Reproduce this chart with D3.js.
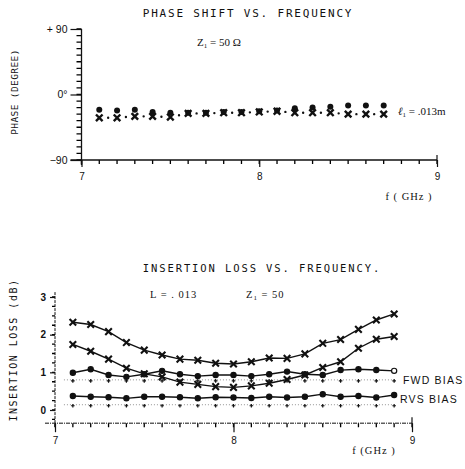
<!DOCTYPE html>
<html>
<head>
<meta charset="utf-8">
<script src="https://cdn.jsdelivr.net/npm/d3@7.9.0/dist/d3.min.js"></script>
<style>
  body { margin: 0; background: #fff; }
  svg { display: block; }
  .mono { font-family: "DejaVu Sans Mono", monospace; }
  .serif { font-family: "Liberation Serif", serif; }
  .sans { font-family: "Liberation Sans", sans-serif; }
</style>
</head>
<body>
<svg id="chart" width="465" height="469"></svg>
<script>
// phase shift chart
const phaseFreq = [7.1, 7.2, 7.3, 7.4, 7.5, 7.6, 7.7, 7.8, 7.9, 8.0, 8.1, 8.2, 8.3, 8.4, 8.5, 8.6, 8.7];
const phaseUpper = [-21, -22, -21, -24, -25, -25, -25, -24, -24, -23, -22, -19, -18, -17, -15, -15, -15];
const phaseLower = [-32, -32, -30, -30, -31, -26, -26, -25, -25, -24, -23, -25, -25, -25, -27, -27, -27];
const phaseTicks = [-90, 0, 90];
const phaseTickLabels = ['\u221290', '0\u00b0', '+ 90'];

// insertion loss chart
const lossFreq = [7.1, 7.2, 7.3, 7.4, 7.5, 7.6, 7.7, 7.8, 7.9, 8.0, 8.1, 8.2, 8.3, 8.4, 8.5, 8.6, 8.7, 8.8, 8.9];
const lossA = [2.33, 2.27, 2.08, 1.79, 1.59, 1.46, 1.35, 1.32, 1.24, 1.22, 1.28, 1.38, 1.37, 1.49, 1.77, 1.87, 2.14, 2.39, 2.55];
const lossB = [1.74, 1.56, 1.35, 1.11, 0.96, 0.88, 0.74, 0.68, 0.62, 0.60, 0.64, 0.71, 0.81, 0.93, 1.13, 1.28, 1.64, 1.88, 1.95];
const lossC = [0.99, 1.08, 0.93, 0.88, 0.95, 1.04, 0.95, 0.90, 0.93, 0.93, 0.90, 0.95, 1.02, 0.95, 0.93, 1.06, 1.08, 1.06, 1.04];
const lossD = [0.37, 0.35, 0.34, 0.31, 0.35, 0.35, 0.34, 0.31, 0.34, 0.33, 0.32, 0.35, 0.33, 0.35, 0.42, 0.35, 0.37, 0.33, 0.40];
const fwdRef = [0.80, 0.80, 0.80, 0.80, 0.80, 0.80, 0.80, 0.80, 0.80, 0.80, 0.80, 0.80, 0.80, 0.80, 0.80, 0.80, 0.80, 0.80, 0.80];
const rvsRef = [0.14, 0.14, 0.14, 0.14, 0.14, 0.14, 0.14, 0.14, 0.14, 0.14, 0.14, 0.14, 0.14, 0.14, 0.14, 0.14, 0.14, 0.14, 0.14];
const lossTicks = [0, 1, 2, 3];
const freqTicks = [7, 8, 9];

const svg = d3.select('#chart');
const ink = '#111';

// short tick marks, placed by a scale (one path per axis)
function minorTicks(g, values, pos, vertical, base, len) {
  const d = values
    .map((v) => (vertical
      ? `M${base},${pos(v)}H${base - len}`
      : `M${pos(v)},${base}V${base + len}`))
    .join('');
  g.append('path')
    .attr('d', d)
    .attr('fill', 'none')
    .attr('stroke', '#000').attr('stroke-width', 1.3);
}

// ---------- top chart ----------
const x1 = d3.scaleLinear().domain([7, 9]).range([81.5, 437]);
const y1 = d3.scaleLinear().domain([-90, 90]).range([160, 29]);

const gTop = svg.append('g');

gTop.append('text').attr('class', 'mono')
  .attr('x', 248).attr('y', 17)
  .attr('text-anchor', 'middle')
  .attr('font-size', 11).attr('letter-spacing', 1.8).attr('fill', ink)
  .text('PHASE SHIFT VS. FREQUENCY');

gTop.append('text').attr('class', 'mono')
  .attr('transform', 'translate(18,92) rotate(-90)')
  .attr('text-anchor', 'middle')
  .attr('font-size', 9.5).attr('letter-spacing', 0.4).attr('fill', ink)
  .text('PHASE (DEGREE)');

minorTicks(gTop, d3.range(-90, 91, 9), y1, true, x1(7), 5);
minorTicks(gTop, x1.ticks(20), x1, false, y1(-90), 4);

gTop.append('g')
  .attr('transform', `translate(${x1(7)},0)`)
  .call(d3.axisLeft(y1).tickValues(phaseTicks).tickSize(11).tickPadding(3)
    .tickFormat((d, i) => phaseTickLabels[i]))
  .call((g) => g.select('.domain').remove())
  .call((g) => g.selectAll('line').attr('stroke', ink).attr('stroke-width', 1.2))
  .call((g) => g.selectAll('text').attr('class', 'sans').attr('font-size', 10.5).attr('fill', ink));
gTop.append('line')
  .attr('x1', x1(7)).attr('x2', x1(7))
  .attr('y1', y1(90)).attr('y2', y1(-90) + 5)
  .attr('stroke', ink).attr('stroke-width', 1.3);

gTop.append('g')
  .attr('transform', `translate(0,${y1(-90)})`)
  .call(d3.axisBottom(x1).tickValues(freqTicks).tickSize(7).tickPadding(6).tickFormat(d3.format('d')))
  .call((g) => g.select('.domain').remove())
  .call((g) => g.selectAll('line').attr('stroke', ink).attr('stroke-width', 1.2))
  .call((g) => g.selectAll('text').attr('class', 'sans').attr('font-size', 10).attr('fill', ink));
gTop.append('line')
  .attr('x1', x1(7) - 11).attr('x2', x1(9))
  .attr('y1', y1(-90)).attr('y2', y1(-90))
  .attr('stroke', ink).attr('stroke-width', 1.3);
gTop.append('line')
  .attr('x1', x1(9)).attr('x2', x1(9))
  .attr('y1', y1(-90)).attr('y2', y1(-90) - 5)
  .attr('stroke', ink).attr('stroke-width', 1.2);

gTop.append('text').attr('class', 'serif')
  .attr('x', 409).attr('y', 200).attr('text-anchor', 'middle')
  .attr('font-size', 10.5).attr('letter-spacing', 1).attr('fill', ink)
  .text('f ( GHz )');

gTop.append('text').attr('class', 'serif')
  .attr('x', 197).attr('y', 46)
  .attr('font-size', 11).attr('fill', ink)
  .html('Z<tspan font-size="7" dy="2">1</tspan><tspan dy="-2"> = 50 \u03a9</tspan>');

gTop.append('text').attr('class', 'serif')
  .attr('x', 398).attr('y', 115)
  .attr('font-size', 11).attr('fill', ink)
  .html('<tspan font-style="italic">\u2113</tspan><tspan font-size="7" dy="2">1</tspan><tspan dy="-2"> = .013m</tspan>');

// dotted joining line, one dot between markers
const phaseLine = d3.line().x((d) => x1(d[0])).y((d) => y1(d[1]));
const step = x1(7.1) - x1(7);
gTop.append('path')
  .datum(d3.zip(phaseFreq, phaseLower))
  .attr('d', phaseLine)
  .attr('fill', 'none').attr('stroke', ink).attr('stroke-width', 2.4)
  .attr('stroke-linecap', 'round')
  .attr('stroke-dasharray', `0 ${step}`)
  .attr('stroke-dashoffset', step / 2);

gTop.append('g').selectAll('path')
  .data(d3.zip(phaseFreq, phaseLower))
  .join('path')
  .attr('transform', (d) => `translate(${x1(d[0])},${y1(d[1])})`)
  .attr('d', d3.symbol(d3.symbolTimes, 30))
  .attr('fill', 'none').attr('stroke', ink).attr('stroke-width', 2.4);

gTop.append('g').selectAll('circle')
  .data(d3.zip(phaseFreq, phaseUpper))
  .join('circle')
  .attr('cx', (d) => x1(d[0])).attr('cy', (d) => y1(d[1]))
  .attr('r', 3).attr('fill', ink);

// ---------- bottom chart ----------
const x2 = d3.scaleLinear().domain([7, 9]).range([55, 412]);
const y2 = d3.scaleLinear().domain([0, 3]).range([410, 297]);
const axisY = y2(-0.35);

const gBot = svg.append('g');

gBot.append('text').attr('class', 'mono')
  .attr('x', 262).attr('y', 272)
  .attr('text-anchor', 'middle')
  .attr('font-size', 10.5).attr('letter-spacing', 1.9).attr('fill', ink)
  .text('INSERTION LOSS VS. FREQUENCY.');

gBot.append('text').attr('class', 'mono')
  .attr('transform', 'translate(17,350) rotate(-90)')
  .attr('text-anchor', 'middle')
  .attr('font-size', 10).attr('letter-spacing', 1.5).attr('fill', ink)
  .text('INSERTION LOSS (dB)');

gBot.append('text').attr('class', 'serif')
  .attr('x', 150).attr('y', 298)
  .attr('font-size', 10.5).attr('letter-spacing', 1).attr('fill', ink)
  .text('L = . 013');

gBot.append('text').attr('class', 'serif')
  .attr('x', 246).attr('y', 298)
  .attr('font-size', 10.5).attr('letter-spacing', 1).attr('fill', ink)
  .html('Z<tspan font-size="7" dy="2">1</tspan><tspan dy="-2"> = 50</tspan>');

minorTicks(gBot, d3.range(-0.25, 3.01, 0.25), y2, true, x2(7), 3);
minorTicks(gBot, x2.ticks(20), x2, false, axisY, 4);

gBot.append('g')
  .attr('transform', `translate(${x2(7)},0)`)
  .call(d3.axisLeft(y2).tickValues(lossTicks).tickSize(5).tickPadding(4).tickFormat(d3.format('d')))
  .call((g) => g.select('.domain').remove())
  .call((g) => g.selectAll('line').attr('stroke', ink).attr('stroke-width', 1.2))
  .call((g) => g.selectAll('text').attr('class', 'sans').attr('font-weight', 'bold')
    .attr('font-size', 10).attr('fill', ink));
gBot.append('line')
  .attr('x1', x2(7)).attr('x2', x2(7))
  .attr('y1', y2(3.13)).attr('y2', axisY + 5)
  .attr('stroke', ink).attr('stroke-width', 1)
  .attr('stroke-dasharray', '3 1');

gBot.append('g')
  .attr('transform', `translate(0,${axisY})`)
  .call(d3.axisBottom(x2).tickValues(freqTicks).tickSize(9).tickPadding(5).tickFormat(d3.format('d')))
  .call((g) => g.select('.domain').remove())
  .call((g) => g.selectAll('line').attr('stroke', ink).attr('stroke-width', 1.2))
  .call((g) => g.selectAll('text').attr('class', 'sans').attr('font-size', 10).attr('fill', ink));
gBot.append('line')
  .attr('x1', x2(7) - 10).attr('x2', x2(9))
  .attr('y1', axisY).attr('y2', axisY)
  .attr('stroke', ink).attr('stroke-width', 1)
  .attr('stroke-dasharray', '4 1 1 1');
gBot.append('line')
  .attr('x1', x2(9)).attr('x2', x2(9))
  .attr('y1', axisY).attr('y2', axisY - 6)
  .attr('stroke', ink).attr('stroke-width', 1.2);

gBot.append('text').attr('class', 'serif')
  .attr('x', 374).attr('y', 454).attr('text-anchor', 'middle')
  .attr('font-size', 10.5).attr('letter-spacing', 1).attr('fill', ink)
  .text('f (GHz )');

// reference dotted lines
const lossLine = d3.line().x((d) => x2(d[0])).y((d) => y2(d[1]));
[fwdRef, rvsRef].forEach((ref) => {
  gBot.append('line')
    .attr('x1', x2(7.05)).attr('x2', x2(8.9))
    .attr('y1', y2(ref[0])).attr('y2', y2(ref[0]))
    .attr('stroke', '#666').attr('stroke-width', 0.7)
    .attr('stroke-dasharray', '1 2');
  gBot.append('g').selectAll('path')
    .data(d3.zip(lossFreq, ref))
    .join('path')
    .attr('transform', (d) => `translate(${x2(d[0])},${y2(d[1]) + 1})`)
    .attr('d', d3.symbol(d3.symbolCross, 7))
    .attr('fill', ink);
});

gBot.append('text').attr('class', 'sans')
  .attr('x', 403).attr('y', 384)
  .attr('font-size', 10.5).attr('letter-spacing', 1.2).attr('fill', ink)
  .text('FWD BIAS');
gBot.append('text').attr('class', 'sans')
  .attr('x', 400).attr('y', 403)
  .attr('font-size', 10.5).attr('letter-spacing', 1.2).attr('fill', ink)
  .text('RVS BIAS');

// curves
[lossA, lossB, lossC, lossD].forEach((s) => {
  gBot.append('path')
    .datum(d3.zip(lossFreq, s))
    .attr('d', lossLine)
    .attr('fill', 'none').attr('stroke', ink).attr('stroke-width', 1.4);
});

[lossA, lossB].forEach((s) => {
  gBot.append('g').selectAll('path')
    .data(d3.zip(lossFreq, s))
    .join('path')
    .attr('transform', (d) => `translate(${x2(d[0])},${y2(d[1])})`)
    .attr('d', d3.symbol(d3.symbolTimes, 30))
    .attr('fill', 'none').attr('stroke', ink).attr('stroke-width', 2.1);
});

[lossC, lossD].forEach((s, k) => {
  gBot.append('g').selectAll('circle')
    .data(d3.zip(lossFreq, s))
    .join('circle')
    .attr('cx', (d) => x2(d[0])).attr('cy', (d) => y2(d[1]))
    .attr('r', 2.6)
    .attr('fill', (d, i) => (k === 0 && i === lossFreq.length - 1 ? '#fff' : ink))
    .attr('stroke', ink).attr('stroke-width', 1.2);
});
</script>
</body>
</html>
